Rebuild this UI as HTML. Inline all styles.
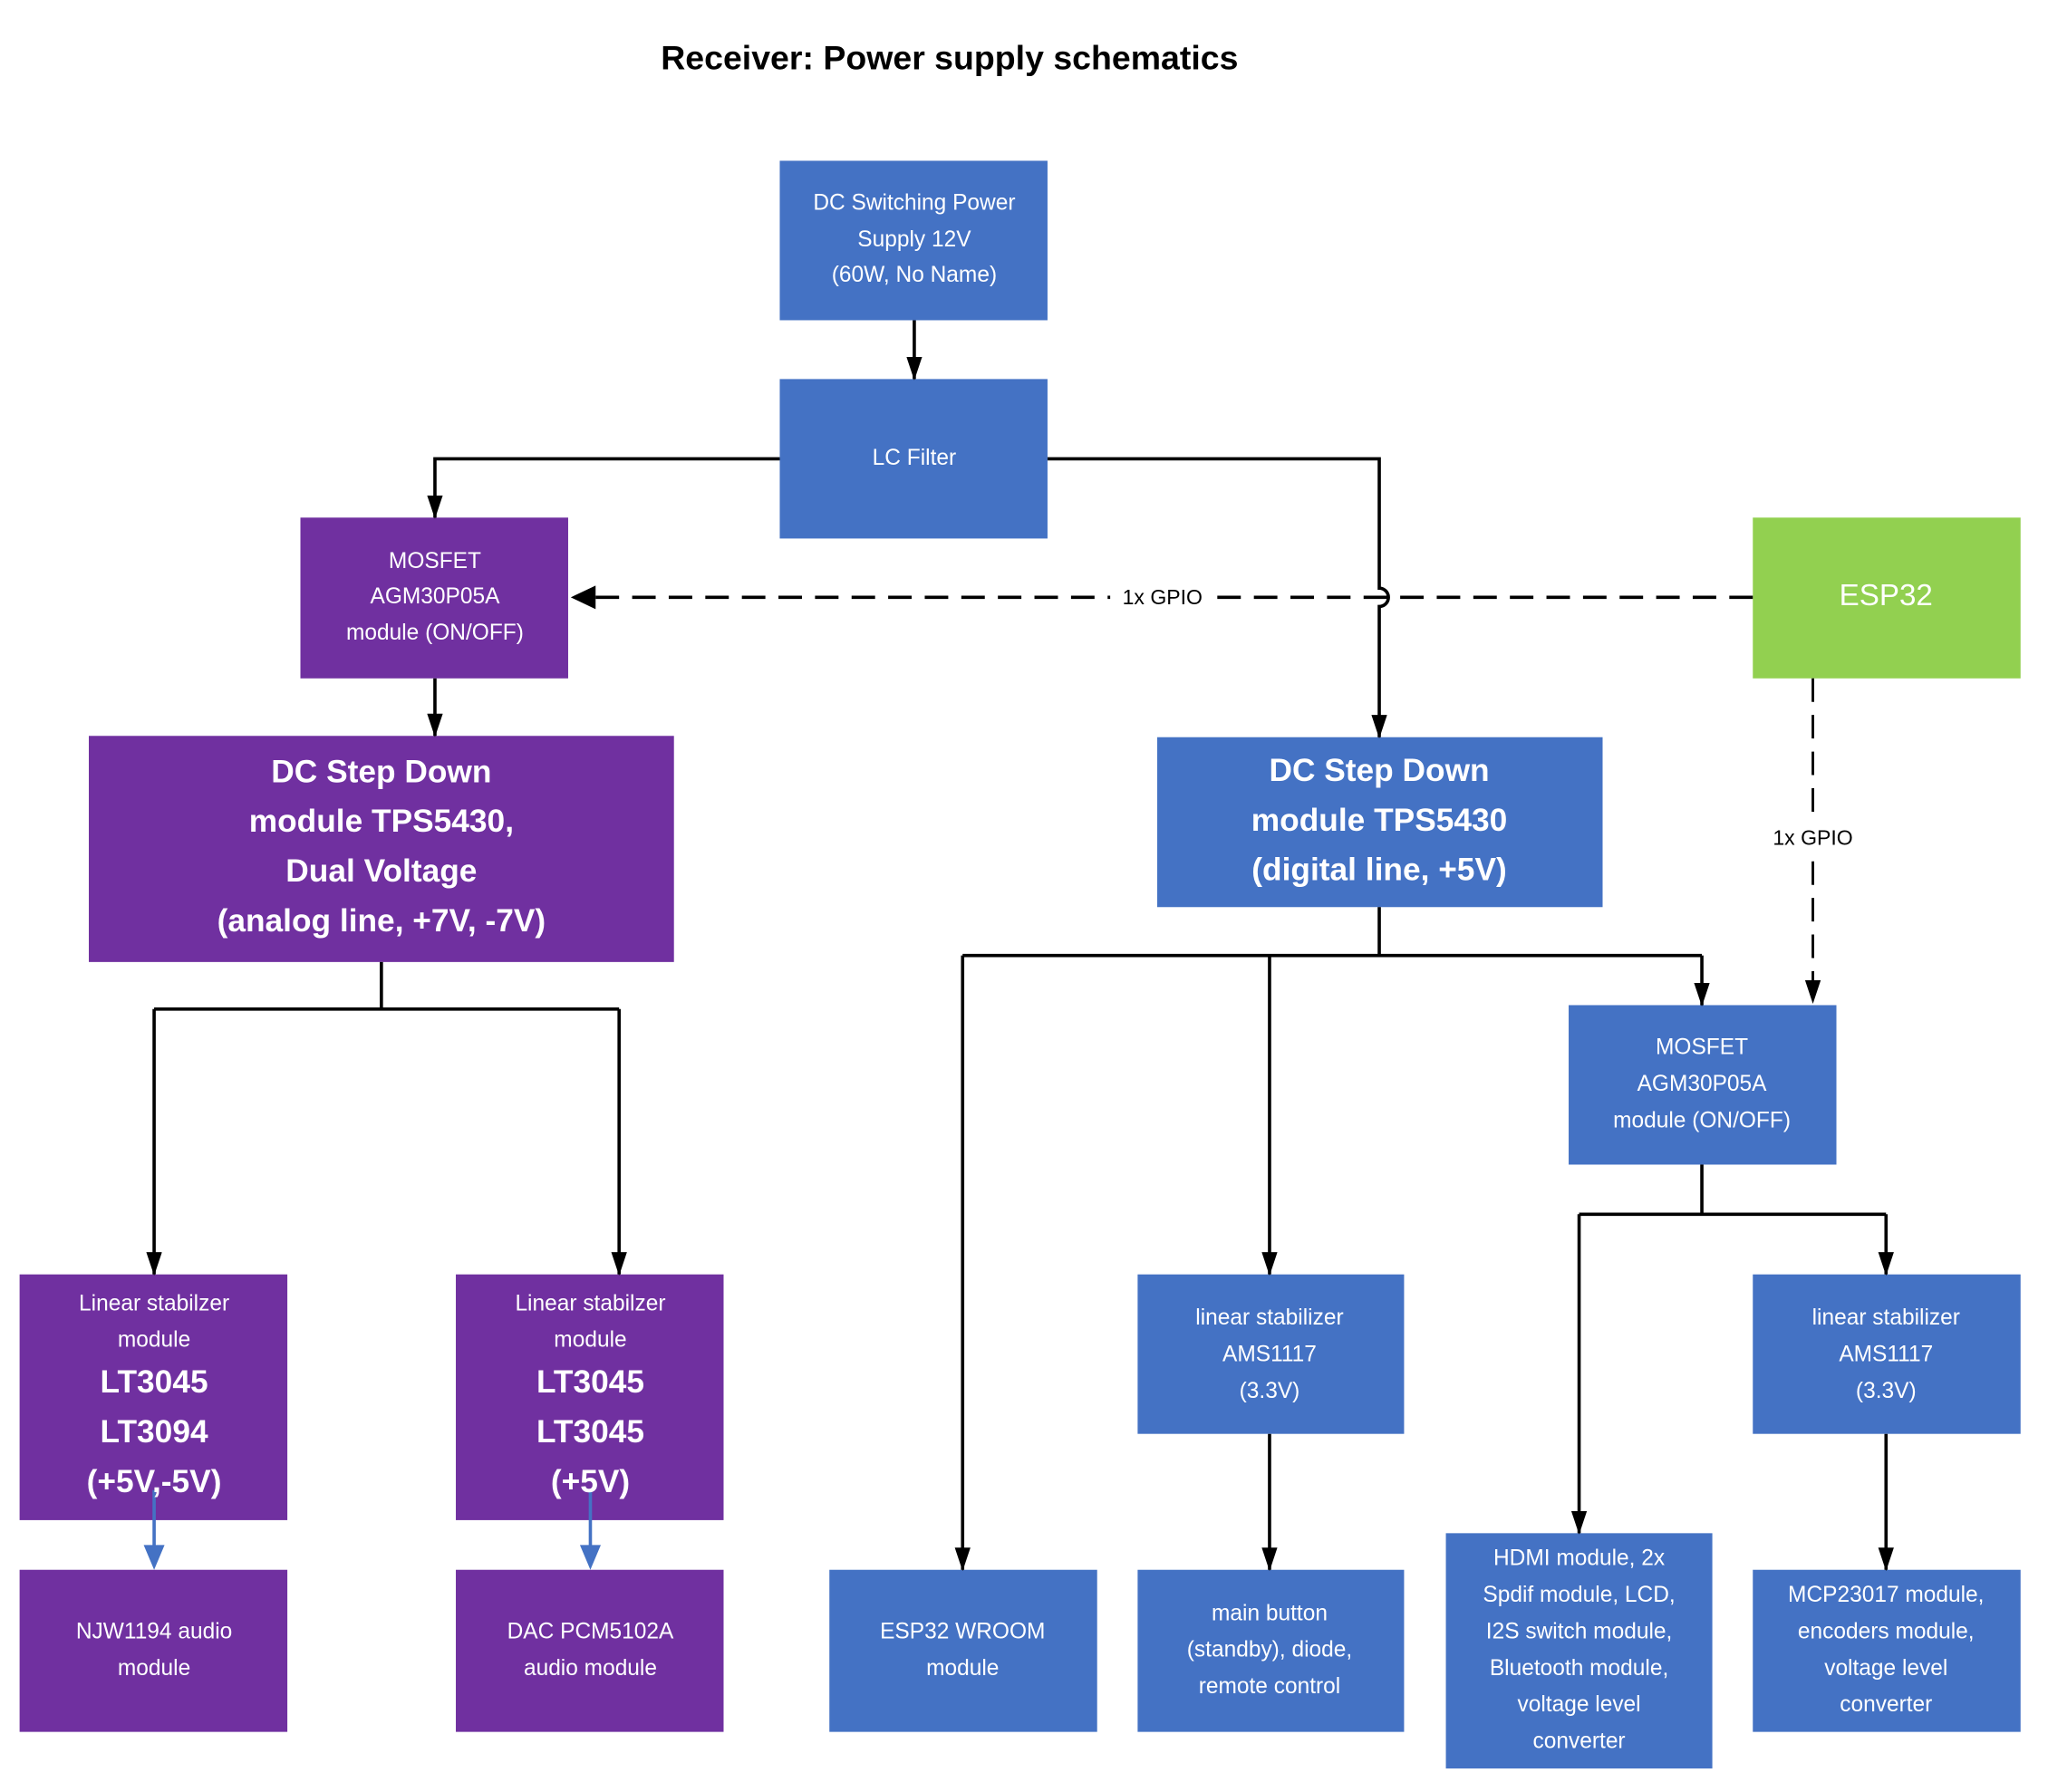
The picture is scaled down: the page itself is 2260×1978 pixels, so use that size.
<!DOCTYPE html>
<html><head><meta charset="utf-8"><style>html,body{margin:0;padding:0;background:#fff}svg{display:block}</style></head><body>
<svg xmlns="http://www.w3.org/2000/svg" width="2260" height="1978" viewBox="0 0 1568 1371" preserveAspectRatio="none">
<defs>
<marker id="a" markerWidth="18" markerHeight="12" refX="17" refY="6" orient="auto" markerUnits="userSpaceOnUse" viewBox="0 0 18 12"><path d="M0,0 L18,6 L0,12 Z" fill="#000"/></marker>
</defs>
<style>
text{font-family:"Liberation Sans",sans-serif;fill:#fff;text-anchor:middle;dominant-baseline:middle}
.s{font-size:17px}.b{font-size:24.5px;font-weight:bold}.c{fill:#000}
.l{stroke:#000;stroke-width:2.5;fill:none}
</style>
<text class="c" x="727" y="46" style="font-size:26px;font-weight:bold">Receiver: Power supply schematics</text>

<g fill="#4472c4">
<rect x="597" y="123" width="205" height="122"/><rect x="597" y="290" width="205" height="122"/>
<rect x="886" y="564" width="341" height="130"/><rect x="1201" y="769" width="205" height="122"/>
<rect x="871" y="975" width="204" height="122"/><rect x="1342" y="975" width="205" height="122"/>
<rect x="635" y="1201" width="205" height="124"/><rect x="871" y="1201" width="204" height="124"/>
<rect x="1107" y="1173" width="204" height="180"/><rect x="1342" y="1201" width="205" height="124"/>
</g>
<g fill="#7030a0">
<rect x="230" y="396" width="205" height="123"/><rect x="68" y="563" width="448" height="173"/>
<rect x="15" y="975" width="205" height="188"/><rect x="349" y="975" width="205" height="188"/>
<rect x="15" y="1201" width="205" height="124"/><rect x="349" y="1201" width="205" height="124"/>
</g>
<rect x="1342" y="396" width="205" height="123" fill="#92d050"/>

<g class="l">
<path d="M700,245 V290" marker-end="url(#a)"/>
<path d="M597,351 H333 V396" marker-end="url(#a)"/>
<path d="M802,351 H1056 V450 A7,7 0 0 1 1056,464 V564" marker-end="url(#a)"/>
<path d="M333,519 V563" marker-end="url(#a)"/>
<path d="M292,736 V772 M118,772 H474"/>
<path d="M118,772 V975" marker-end="url(#a)"/>
<path d="M474,772 V975" marker-end="url(#a)"/>
<path d="M1056,694 V731 M737,731 H1303"/>
<path d="M737,731 V1201" marker-end="url(#a)"/>
<path d="M972,731 V975" marker-end="url(#a)"/>
<path d="M1303,731 V769" marker-end="url(#a)"/>
<path d="M1303,891 V929 M1209,929 H1444"/>
<path d="M1209,929 V1173" marker-end="url(#a)"/>
<path d="M1444,929 V975" marker-end="url(#a)"/>
<path d="M972,1097 V1201" marker-end="url(#a)"/>
<path d="M1444,1097 V1201" marker-end="url(#a)"/>
<path d="M1342,457 H440" stroke-dasharray="18,10"/>
<path d="M1388,519 V750" stroke-width="2" stroke-dasharray="18,10"/>
</g>
<path d="M437,457 L456,448 L456,466 Z" fill="#000"/>
<path d="M1382,750 L1394,750 L1388,768 Z" fill="#000"/>
<g stroke="#4472c4" stroke-width="2.5"><path d="M118,1140 V1185 M452,1140 V1185"/></g>
<path d="M110,1182 L126,1182 L118,1201 Z M444,1182 L460,1182 L452,1201 Z" fill="#4472c4"/>
<rect x="850" y="447" width="78" height="20" fill="#fff"/>
<text class="c" x="890" y="458" style="font-size:16px">1x GPIO</text>
<rect x="1350" y="630" width="76" height="24" fill="#fff"/>
<text class="c" x="1388" y="642" style="font-size:16px">1x GPIO</text>

<g class="s">
<text x="700" y="156">DC Switching Power</text><text x="700" y="184">Supply 12V</text><text x="700" y="211">(60W, No Name)</text>
<text x="700" y="351">LC Filter</text>
<text x="333" y="430">MOSFET</text><text x="333" y="457">AGM30P05A</text><text x="333" y="485">module (ON/OFF)</text>
<text x="1444" y="457" style="font-size:23px">ESP32</text>
<text x="1303" y="802">MOSFET</text><text x="1303" y="830">AGM30P05A</text><text x="1303" y="858">module (ON/OFF)</text>
<text x="118" y="998">Linear stabilzer</text><text x="118" y="1026">module</text>
<text x="452" y="998">Linear stabilzer</text><text x="452" y="1026">module</text>
<text x="972" y="1009">linear stabilizer</text><text x="972" y="1037">AMS1117</text><text x="972" y="1065">(3.3V)</text>
<text x="1444" y="1009">linear stabilizer</text><text x="1444" y="1037">AMS1117</text><text x="1444" y="1065">(3.3V)</text>
<text x="118" y="1249">NJW1194 audio</text><text x="118" y="1277">module</text>
<text x="452" y="1249">DAC PCM5102A</text><text x="452" y="1277">audio module</text>
<text x="737" y="1249">ESP32 WROOM</text><text x="737" y="1277">module</text>
<text x="972" y="1235">main button</text><text x="972" y="1263">(standby), diode,</text><text x="972" y="1291">remote control</text>
<text x="1209" y="1193">HDMI module, 2x</text><text x="1209" y="1221">Spdif module, LCD,</text><text x="1209" y="1249">I2S switch module,</text><text x="1209" y="1277">Bluetooth module,</text><text x="1209" y="1305">voltage level</text><text x="1209" y="1333">converter</text>
<text x="1444" y="1221">MCP23017 module,</text><text x="1444" y="1249">encoders module,</text><text x="1444" y="1277">voltage level</text><text x="1444" y="1305">converter</text>
</g>
<g class="b">
<text x="292" y="592">DC Step Down</text><text x="292" y="630">module TPS5430,</text><text x="292" y="668">Dual Voltage</text><text x="292" y="706">(analog line, +7V, -7V)</text>
<text x="1056" y="591">DC Step Down</text><text x="1056" y="629">module TPS5430</text><text x="1056" y="667">(digital line, +5V)</text>
<text x="118" y="1059">LT3045</text><text x="118" y="1097">LT3094</text><text x="118" y="1135">(+5V,-5V)</text>
<text x="452" y="1059">LT3045</text><text x="452" y="1097">LT3045</text><text x="452" y="1135">(+5V)</text>
</g>
</svg>
</body></html>
